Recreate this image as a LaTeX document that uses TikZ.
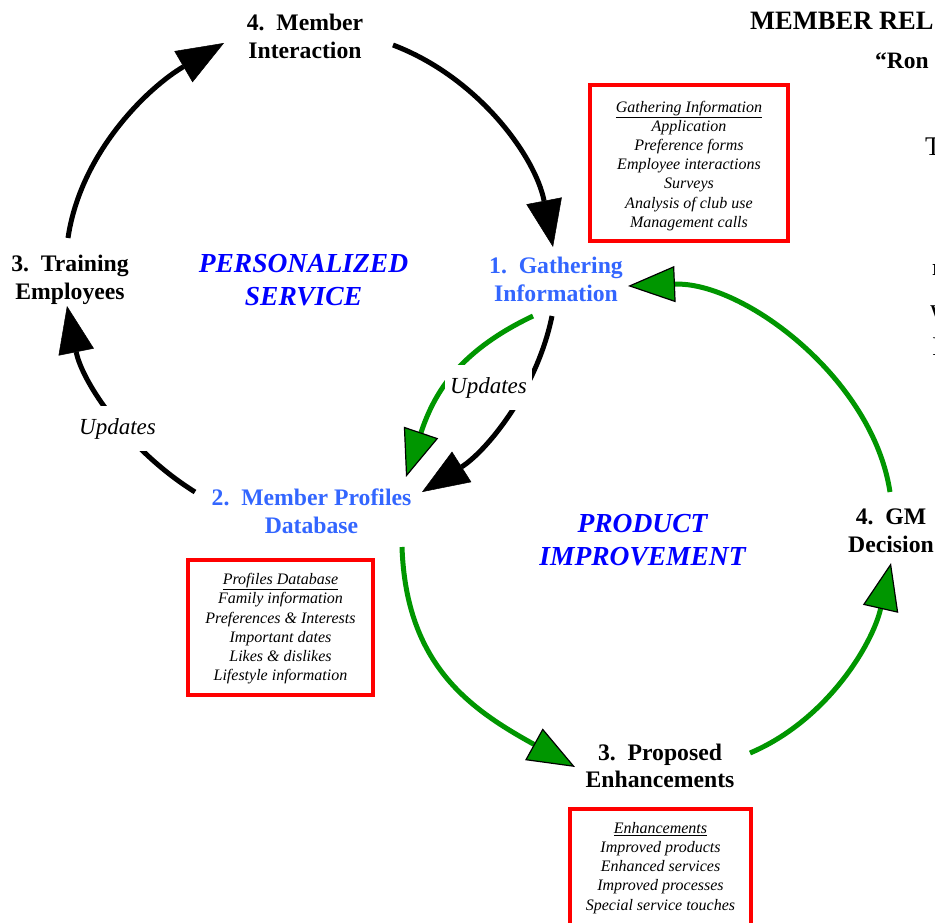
\documentclass[tikz,border=0pt]{standalone}
\usepackage{fontspec}
\setmainfont{Liberation Serif}
\usetikzlibrary{arrows.meta}
\definecolor{grn}{RGB}{0,150,0}
\definecolor{lblue}{RGB}{51,102,255}
\definecolor{dblue}{RGB}{0,0,255}
\definecolor{bred}{RGB}{255,0,0}
\begin{document}
\begin{tikzpicture}[x=1pt,y=-1pt,
  lbl/.style={font=\fontsize{23.7}{27.6}\selectfont\bfseries, align=center, inner sep=0pt},
  theme/.style={font=\fontsize{27.5}{33}\selectfont\bfseries\itshape, text=dblue, align=center, inner sep=0pt},
  boxtxt/.style={font=\fontsize{16}{19.2}\selectfont\itshape, align=center, inner sep=0pt},
  redbox/.style={draw=bred, line width=4pt, inner sep=0pt},
  upd/.style={font=\fontsize{23}{27}\selectfont\itshape, fill=white, inner xsep=5pt, inner ysep=12pt},
  frag/.style={anchor=base west, inner sep=0pt},
  blk/.style={line width=5pt, -{Triangle[length=47pt,width=36pt,line width=0.5pt]}},
  grnarr/.style={draw=grn, line width=5pt, -{Triangle[length=47pt,width=36pt,fill=grn,color=black,line width=1.2pt]}},
]
\useasboundingbox (0,0) rectangle (935,922);
\clip (0,0) rectangle (935,922);

% title fragments at the right edge
\node[frag, font=\fontsize{26.5}{30}\selectfont\bfseries] (title1) at (750,29) {MEMBER REL};
\node[frag, font=\fontsize{23.5}{28}\selectfont\bfseries] (title2) at (875,68) {“Ron};
\node[frag, font=\fontsize{27}{30}\selectfont] (frag1) at (925,155) {T};
\node[frag, font=\fontsize{24}{28}\selectfont\bfseries] (frag2) at (932,275) {r};
\node[frag, font=\fontsize{18}{22}\selectfont\bfseries] (frag3) at (930,317) {W};
\node[frag, font=\fontsize{27}{30}\selectfont] (frag4) at (932,355) {I};

% main labels
\node[lbl] (mi) at (305,36.5) {4.\ \ Member\\Interaction};
\node[lbl] (te) at (70,280) {3.\ \ Training\\Employees};
\node[lbl, text=lblue] (gi) at (556,279.5) {1.\ \ Gathering\\Information};
\node[lbl, text=lblue] (mp) at (311.5,511) {2.\ \ Member Profiles\\Database};
\node[lbl] (gm) at (891,531) {4.\ \ GM\\Decision};
\node[lbl] (pe) at (660,766) {3.\ \ Proposed\\Enhancements};
\node[theme] (ps) at (303.5,280) {PERSONALIZED\\SERVICE};
\node[theme] (pi) at (642.5,540) {PRODUCT\\IMPROVEMENT};

% red boxes
\node[redbox, minimum width=198pt, minimum height=156pt] (gbox) at (689,163) {};
\node[boxtxt] (gtxt) at (689,165.75) {\underline{Gathering Information}\\Application\\Preference forms\\Employee interactions\\Surveys\\Analysis of club use\\Management calls};
\node[redbox, minimum width=185pt, minimum height=135pt] (pbox) at (280.5,627.5) {};
\node[boxtxt] (ptxt) at (280.5,628.75) {\underline{Profiles Database}\\Family information\\Preferences \& Interests\\Important dates\\Likes \& dislikes\\Lifestyle information};
\node[redbox, minimum width=181pt, minimum height=121pt] (ebox) at (660.5,869.5) {};
\node[boxtxt] (etxt) at (660.5,867.75) {\underline{Enhancements}\\Improved products\\Enhanced services\\Improved processes\\Special service touches};

% connector end points
\coordinate (mi-out) at (393,45);
\coordinate (gi-in) at (553,247);
\coordinate (te-out) at (68,238);
\coordinate (mi-in) at (224,43);
\coordinate (mp-out) at (195,492);
\coordinate (te-in) at (67,306);
\coordinate (gi-outb) at (552,316);
\coordinate (mp-inb) at (422,492);
\coordinate (gi-outg) at (533,316);
\coordinate (mp-ing) at (406,477);
\coordinate (mp-outg) at (402,547);
\coordinate (pe-in) at (575,767);
\coordinate (pe-out) at (750,753);
\coordinate (gm-in) at (891,563);
\coordinate (gm-out) at (890,492);
\coordinate (gi-ing) at (628,286);

% black cycle
\draw[blk] (mi-out) .. controls (478.6,77.5) and (535.6,157) .. (gi-in);
\draw[blk] (te-out) .. controls (80.7,151.8) and (148.7,87) .. (mi-in);
\draw[blk] (mp-out) .. controls (128.3,450.4) and (82.4,382.9) .. (te-in);
\draw[blk] (gi-outb) .. controls (536.8,390.5) and (486.2,451.3) .. (mp-inb);

% green cycle
\draw[grnarr] (gi-outg) .. controls (455,353) and (433,397) .. (mp-ing);
\draw[grnarr] (mp-outg) .. controls (406,665) and (470,709) .. (pe-in);
\draw[grnarr] (pe-out) .. controls (826.7,720.5) and (872.5,644.3) .. (gm-in);
\draw[grnarr] (gm-out) .. controls (872.8,378.3) and (743,281.4) .. (gi-ing);

% update labels
\node[upd] (upd1) at (117.5,428.9) {Updates};
\node[upd] (upd2) at (488.5,387.9) {Updates};
\end{tikzpicture}
\end{document}
